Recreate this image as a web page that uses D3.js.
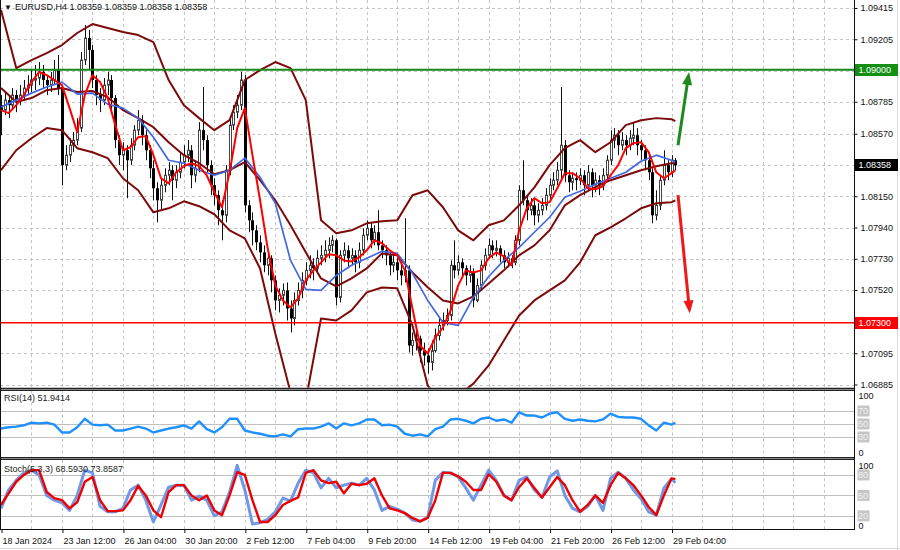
<!DOCTYPE html>
<html><head><meta charset="utf-8">
<script src="https://cdn.jsdelivr.net/npm/d3@7"></script>
<style>
html,body{margin:0;padding:0;background:#fff;}
svg{display:block;font-family:"Liberation Sans",Arial,sans-serif;}
</style></head><body>
<svg id="c" width="900" height="550"></svg>
<script>
// ---------------- DATA ----------------
const symbolTitle = "EURUSD,H4";
const headerValues = ["1.08359","1.08359","1.08358","1.08358"];
const firstOpen = 1.08762;
const closes = [
1.08729,1.08796,1.08762,1.08830,1.08796,1.08830,1.08877,1.08897,1.08931,1.08944,
1.08985,1.08931,1.08897,1.08931,1.08998,1.08877,1.08359,1.08426,1.08493,1.08527,
1.08608,1.09065,1.09213,1.09133,1.08931,1.08830,1.08796,1.08897,1.08931,1.08810,
1.08527,1.08426,1.08459,1.08392,1.08493,1.08594,1.08661,1.08560,1.08459,1.08338,
1.08204,1.08123,1.08224,1.08291,1.08325,1.08258,1.08311,1.08379,1.08426,1.08459,
1.08291,1.08338,1.08594,1.08527,1.08359,1.08224,1.08157,1.08056,1.08022,1.08325,
1.08628,1.08715,1.08762,1.08931,1.08089,1.07988,1.07921,1.07840,1.07773,1.07686,
1.07733,1.07585,1.07450,1.07484,1.07517,1.07396,1.07329,1.07450,1.07517,1.07585,
1.07652,1.07686,1.07666,1.07733,1.07753,1.07787,1.07820,1.07854,1.07470,1.07753,
1.07787,1.07733,1.07753,1.07706,1.07787,1.07888,1.07935,1.07854,1.07908,1.07820,
1.07787,1.07753,1.07686,1.07706,1.07652,1.07618,1.07652,1.07147,1.07181,1.07194,
1.07113,1.07080,1.07033,1.07113,1.07214,1.07282,1.07315,1.07349,1.07686,1.07652,
1.07706,1.07666,1.07618,1.07639,1.07450,1.07551,1.07686,1.07753,1.07820,1.07787,
1.07800,1.07753,1.07706,1.07733,1.07706,1.07854,1.08190,1.08123,1.08056,1.08089,
1.08022,1.08056,1.08089,1.08157,1.08224,1.08258,1.08325,1.08493,1.08291,1.08244,
1.08271,1.08258,1.08291,1.08224,1.08311,1.08224,1.08258,1.08224,1.08291,1.08392,
1.08527,1.08560,1.08493,1.08527,1.08493,1.08540,1.08560,1.08493,1.08459,1.08392,
1.08311,1.08022,1.08089,1.08258,1.08359,1.08311,1.08392,1.08358];
const highs = [
1.08830,1.08850,1.08830,1.08877,1.08863,1.08897,1.08931,1.08964,1.08998,1.09032,
1.09052,1.09032,1.08964,1.08985,1.09065,1.09099,1.08897,1.08493,1.08540,1.08581,
1.08675,1.09119,1.09301,1.09267,1.09166,1.08964,1.08877,1.08944,1.08985,1.08964,
1.08830,1.08560,1.08513,1.08493,1.08540,1.08628,1.08729,1.08695,1.08594,1.08493,
1.08392,1.08244,1.08271,1.08338,1.08379,1.08359,1.08359,1.08446,1.08493,1.08527,
1.08493,1.08392,1.08648,1.08884,1.08560,1.08392,1.08271,1.08190,1.08123,1.08359,
1.08675,1.08762,1.08830,1.08985,1.08964,1.08123,1.08042,1.07955,1.07888,1.07820,
1.07787,1.07753,1.07618,1.07531,1.07564,1.07571,1.07450,1.07504,1.07571,1.07639,
1.07706,1.07753,1.07733,1.07787,1.07820,1.07854,1.07874,1.07888,1.07867,1.07787,
1.07840,1.07820,1.07800,1.07787,1.07840,1.07935,1.07988,1.07975,1.07955,1.08056,
1.07854,1.07820,1.07787,1.07753,1.07733,1.07706,1.08002,1.07686,1.07235,1.07248,
1.07214,1.07167,1.07127,1.07181,1.07261,1.07329,1.07369,1.07396,1.07719,1.07854,
1.07753,1.07733,1.07686,1.07686,1.07666,1.07598,1.07719,1.07800,1.07867,1.07854,
1.07854,1.07820,1.07787,1.07773,1.07753,1.07888,1.08224,1.08392,1.08157,1.08137,
1.08123,1.08103,1.08137,1.08204,1.08271,1.08311,1.08379,1.08884,1.08527,1.08325,
1.08311,1.08311,1.08338,1.08325,1.08359,1.08338,1.08311,1.08291,1.08338,1.08426,
1.08594,1.08608,1.08594,1.08581,1.08560,1.08594,1.08641,1.08608,1.08527,1.08493,
1.08426,1.08338,1.08190,1.08291,1.08459,1.08392,1.08426,1.08406];
const lows = [
1.08560,1.08695,1.08675,1.08729,1.08715,1.08762,1.08796,1.08830,1.08850,1.08863,
1.08897,1.08877,1.08830,1.08850,1.08897,1.08830,1.08224,1.08325,1.08379,1.08446,
1.08493,1.08581,1.09032,1.08998,1.08877,1.08762,1.08715,1.08762,1.08830,1.08729,
1.08473,1.08359,1.08325,1.08137,1.08359,1.08459,1.08560,1.08493,1.08392,1.08271,
1.08123,1.07975,1.08056,1.08177,1.08224,1.08123,1.08204,1.08271,1.08338,1.08379,
1.08204,1.08244,1.08311,1.08459,1.08311,1.08157,1.08089,1.07955,1.07854,1.07975,
1.08291,1.08594,1.08675,1.08729,1.08042,1.07908,1.07820,1.07787,1.07706,1.07639,
1.07618,1.07504,1.07383,1.07369,1.07416,1.07315,1.07235,1.07282,1.07416,1.07464,
1.07551,1.07598,1.07585,1.07639,1.07686,1.07706,1.07733,1.07773,1.07416,1.07437,
1.07706,1.07666,1.07686,1.07639,1.07666,1.07753,1.07854,1.07800,1.07820,1.07787,
1.07733,1.07686,1.07618,1.07639,1.07585,1.07551,1.07571,1.07100,1.07080,1.07113,
1.07033,1.07012,1.06959,1.06979,1.07100,1.07181,1.07248,1.07282,1.07315,1.07598,
1.07618,1.07598,1.07551,1.07571,1.07403,1.07437,1.07517,1.07652,1.07733,1.07733,
1.07746,1.07706,1.07666,1.07672,1.07666,1.07686,1.07820,1.08089,1.07988,1.08022,
1.07955,1.07975,1.08022,1.08056,1.08123,1.08190,1.08224,1.08271,1.08244,1.08177,
1.08190,1.08190,1.08224,1.08157,1.08190,1.08143,1.08177,1.08157,1.08190,1.08258,
1.08359,1.08473,1.08426,1.08459,1.08426,1.08459,1.08493,1.08426,1.08392,1.08325,
1.08258,1.07968,1.07988,1.08056,1.08224,1.08258,1.08278,1.08325];

// indicator lines (bollinger bands + blue MA sampled every 4 bars, the rest every 2 bars)
const bbUpper = [1.09402,1.09011,1.09065,1.09112,1.09166,1.09247,1.09307,1.09281,1.09254,1.09233,
1.09186,1.08931,1.08762,1.08675,1.08594,1.08661,1.08931,1.08998,1.09052,1.09011,
1.08796,1.07988,1.07901,1.07921,1.07968,1.07982,1.07988,1.08157,1.08190,1.08076,
1.07921,1.07854,1.07955,1.07988,1.08089,1.08210,1.08359,1.08473,1.08527,1.08446,
1.08513,1.08628,1.08661,1.08675,1.08668,1.08655];
const bbMiddle = [1.08877,1.08783,1.08810,1.08863,1.08877,1.08850,1.08857,1.08816,1.08729,1.08675,
1.08614,1.08513,1.08426,1.08372,1.08298,1.08325,1.08379,1.08258,1.08123,1.07955,
1.07773,1.07598,1.07544,1.07598,1.07665,1.07766,1.07753,1.07638,1.07538,1.07450,
1.07430,1.07477,1.07564,1.07652,1.07753,1.07820,1.07921,1.08089,1.08157,1.08211,
1.08258,1.08291,1.08325,1.08352,1.08372,1.08372];
const bbLower = [1.08325,1.08459,1.08540,1.08608,1.08594,1.08473,1.08446,1.08406,1.08271,1.08190,
1.08042,1.08069,1.08116,1.08083,1.08029,1.07921,1.07867,1.07665,1.07228,1.06831,
1.06777,1.07329,1.07315,1.07383,1.07504,1.07537,1.07531,1.07282,1.06878,1.06763,
1.06811,1.06891,1.07013,1.07181,1.07349,1.07450,1.07517,1.07585,1.07706,1.07888,
1.07941,1.08002,1.08069,1.08103,1.08110,1.08123];
const maBlue = [1.08749,1.08796,1.08843,1.08884,1.08917,1.08836,1.08843,1.08769,1.08742,1.08675,
1.08547,1.08392,1.08372,1.08325,1.08291,1.08325,1.08406,1.08278,1.08103,1.07719,
1.07524,1.07517,1.07618,1.07686,1.07733,1.07780,1.07766,1.07632,1.07450,1.07302,
1.07282,1.07470,1.07611,1.07719,1.07807,1.07908,1.08009,1.08143,1.08184,1.08231,
1.08271,1.08311,1.08385,1.08426,1.08392,1.08379];
const maRed = [1.08729,1.08709,1.08762,1.08830,1.08917,1.08985,1.08964,1.08931,1.08897,
1.08742,1.08581,1.08830,1.08964,1.08917,1.08810,1.08628,1.08459,1.08480,
1.08547,1.08554,1.08426,1.08271,1.08237,1.08311,1.08352,1.08372,1.08352,
1.08291,1.08177,1.08076,1.08311,1.08608,1.08742,1.08426,1.08123,1.07800,
1.07551,1.07450,1.07403,1.07464,1.07585,1.07652,1.07706,1.07760,1.07753,
1.07719,1.07712,1.07739,1.07787,1.07854,1.07834,1.07787,1.07753,1.07652,
1.07396,1.07147,1.07093,1.07201,1.07268,1.07383,1.07551,1.07652,1.07638,
1.07652,1.07733,1.07773,1.07746,1.07686,1.07921,1.08069,1.08137,1.08103,
1.08110,1.08204,1.08305,1.08305,1.08271,1.08204,1.08197,1.08217,1.08291,
1.08359,1.08473,1.08507,1.08513,1.08446,1.08311,1.08271,1.08305,1.08325];
const rsi = [43,45,46,48,52,51,52,49,37, 37,45,58,49,48,49,40,40,43,
46,43,37,40,43,45,48,43,54, 42,37,45,58,58,40,37,35,32,
31,34,31,42,43,43,46,51,43, 51,48,51,57,57,48,49,46,35,
32,34,31,42,46,57,58,55,51, 58,60,55,57,52,68,63,63,60,
66,68,58,55,57,55,54,57,66, 61,60,60,58,48,40,52,49,51.9414];
const stochMain = [31,58,72,83,87,80,50,43,39, 28,50,87,83,34,26,26,31,58,
65,43,11,36,62,65,65,43,49, 43,20,26,55,94,58,8,10,15,
26,46,42,68,87,83,61,75,61, 65,68,65,75,58,28,34,30,24,
14,12,18,72,84,83,77,61,43, 65,87,72,50,43,72,77,58,47,
77,86,50,31,26,34,50,28,75, 84,75,58,45,26,21,61,74,68.5930];
const stochSignal = [36,53,70,80,87,87,55,46,43, 31,40,70,77,43,27,27,28,43,
64,50,28,18,55,65,65,50,43, 50,28,21,50,84,80,43,11,11,
21,36,42,47,83,87,72,68,70, 53,67,65,67,75,50,31,28,24,
17,12,17,43,83,83,78,70,58, 58,81,70,50,43,62,75,61,47,
62,77,65,43,26,36,50,39,65, 83,75,65,50,33,21,50,75,73.8587];

const timeTickBars = [0,16,32,48,64,80,96,112,128,144,160,176];
const timeTickLabels = ["18 Jan 2024","23 Jan 12:00","26 Jan 04:00","30 Jan 20:00","2 Feb 12:00","7 Feb 04:00",
  "9 Feb 20:00","14 Feb 12:00","19 Feb 04:00","21 Feb 20:00","26 Feb 12:00","29 Feb 04:00"];
const priceGrid = [1.09415,1.09205,1.08995,1.08785,1.08570,1.08360,1.08150,1.07940,1.07730,1.07520,1.07305,1.07095,1.06885];
const priceLabels = [1.09415,1.09205,1.08785,1.08570,1.08150,1.07940,1.07730,1.07520,1.07095,1.06885];
const resistanceLevel = 1.09000;
const supportLevel = 1.07300;
const lastPrice = 1.08358;
const rsiLevels = [70,50,30];
const stochLevels = [80,50,20];
const upArrowBars = [177.7,180.6], upArrowPrices = [1.08493,1.08985];
const downArrowBars = [177.7,180.8], downArrowPrices = [1.08157,1.07362];

// ---------------- LAYOUT ----------------
const svg = d3.select("#c");
const plotRight = 854.5;
const x = d3.scaleLinear().domain([0,224]).range([1,854.4]);
const y = d3.scaleLinear().domain([1.06885,1.09415]).range([384.5,8]);
const rsiY = d3.scaleLinear().domain([0,100]).range([456.5,391.5]);
const stY = d3.scaleLinear().domain([0,100]).range([529.5,461.3]);
const mainBottom = 388, rsiTop = 390.5, rsiBottom = 457, stTop = 460, stBottom = 529;
const crisp = v => Math.round(v) + 0.5;

svg.append("rect").attr("width",900).attr("height",550).attr("fill","#fff");
const defs = svg.append("defs");
defs.append("clipPath").attr("id","cm").append("rect").attr("x",0).attr("y",0).attr("width",854).attr("height",mainBottom);
defs.append("clipPath").attr("id","cr").append("rect").attr("x",0).attr("y",rsiTop).attr("width",854).attr("height",rsiBottom-rsiTop);
defs.append("clipPath").attr("id","cs").append("rect").attr("x",0).attr("y",stTop).attr("width",854).attr("height",stBottom-stTop);

const gridColor = "#c4c4c4";
const grid = svg.append("g");
// vertical grid in all panels
const vBars = d3.range(8, 224, 8);
[[0,mainBottom],[rsiTop,rsiBottom],[stTop,stBottom]].forEach(([a,b]) => {
  grid.selectAll(null).data(vBars).enter().append("line")
    .attr("x1", d=>crisp(x(d))).attr("x2", d=>crisp(x(d)))
    .attr("y1", a).attr("y2", b)
    .attr("stroke", gridColor).attr("stroke-dasharray","3,3");
});
grid.selectAll(null).data(priceGrid).enter().append("line")
  .attr("x1",0).attr("x2",plotRight).attr("y1",d=>crisp(y(d))).attr("y2",d=>crisp(y(d)))
  .attr("stroke",gridColor).attr("stroke-dasharray","3,3");
// levels
grid.selectAll(null).data(rsiLevels).enter().append("line")
  .attr("x1",0).attr("x2",plotRight).attr("y1",d=>crisp(rsiY(d))).attr("y2",d=>crisp(rsiY(d)))
  .attr("stroke","#c0c0c0");
grid.selectAll(null).data(stochLevels).enter().append("line")
  .attr("x1",0).attr("x2",plotRight).attr("y1",d=>crisp(stY(d))).attr("y2",d=>crisp(stY(d)))
  .attr("stroke","#c0c0c0");

// ---------------- CANDLES ----------------
const candles = closes.map((c,i) => {
  const o = i === 0 ? firstOpen : closes[i-1];
  return {i, o, c, h: Math.max(highs[i], o, c), l: Math.min(lows[i], o, c)};
});
const gc = svg.append("g").attr("clip-path","url(#cm)");
gc.selectAll(".wick").data(candles).enter().append("line")
  .attr("x1", d=>crisp(x(d.i))).attr("x2", d=>crisp(x(d.i)))
  .attr("y1", d=>y(d.h)).attr("y2", d=>y(d.l))
  .attr("stroke","#111").attr("stroke-width",1);
gc.selectAll(".body").data(candles).enter().append("rect")
  .attr("x", d => d.c >= d.o ? Math.round(x(d.i)) - 0.5 : Math.round(x(d.i)) - 1)
  .attr("y", d => y(Math.max(d.o,d.c)))
  .attr("width", d => d.c >= d.o ? 2 : 3)
  .attr("height", d => Math.max(1, y(Math.min(d.o,d.c)) - y(Math.max(d.o,d.c))))
  .attr("fill", d => d.c >= d.o ? "#fff" : "#000")
  .attr("stroke", d => d.c >= d.o ? "#444" : "none")
  .attr("stroke-width", 1);

// ---------------- INDICATORS ----------------
const bandBars = d3.range(0,177,4).concat([177]);
const fastBars = d3.range(0,177,2).concat([177]);
const gi = svg.append("g").attr("clip-path","url(#cm)");
const priceLine = bars => d3.line().x((d,k)=>x(bars[k])).y(d=>y(d));
[[bbUpper,"#7d0a0a",2],[bbMiddle,"#7d0a0a",2],[bbLower,"#7d0a0a",2]].forEach(([arr,col,w]) => {
  gi.append("path").attr("d", priceLine(bandBars)(arr)).attr("fill","none").attr("stroke",col).attr("stroke-width",w).attr("stroke-linejoin","round");
});
gi.append("path").attr("d", priceLine(bandBars)(maBlue)).attr("fill","none").attr("stroke","#4169e1").attr("stroke-width",1.7).attr("stroke-linejoin","round");
gi.append("path").attr("d", priceLine(fastBars)(maRed)).attr("fill","none").attr("stroke","#ff0000").attr("stroke-width",2).attr("stroke-linejoin","round");

// horizontal levels
svg.append("line").attr("x1",0).attr("x2",plotRight).attr("y1",y(resistanceLevel)).attr("y2",y(resistanceLevel))
  .attr("stroke","#138a13").attr("stroke-width",2);
svg.append("line").attr("x1",0).attr("x2",plotRight).attr("y1",y(supportLevel)).attr("y2",y(supportLevel))
  .attr("stroke","#ff0000").attr("stroke-width",1.6);

// arrows
function arrow(bars, prices, color) {
  const x0 = x(bars[0]), y0 = y(prices[0]), x1 = x(bars[1]), y1 = y(prices[1]);
  const dx = x1-x0, dy = y1-y0, len = Math.hypot(dx,dy), ux = dx/len, uy = dy/len;
  const hl = 13, hw = 5;
  const bx = x1 - ux*hl, by = y1 - uy*hl;
  svg.append("line").attr("x1",x0).attr("y1",y0).attr("x2",bx+ux*2).attr("y2",by+uy*2)
    .attr("stroke",color).attr("stroke-width",3);
  svg.append("path").attr("d", `M${x1},${y1}L${bx - uy*hw},${by + ux*hw}L${bx + uy*hw},${by - ux*hw}Z`).attr("fill",color);
}
arrow(upArrowBars, upArrowPrices, "#1d8c1d");
arrow(downArrowBars, downArrowPrices, "#f01818");

// ---------------- OSCILLATORS ----------------
const gr = svg.append("g").attr("clip-path","url(#cr)");
gr.append("path").attr("d", d3.line().x((d,k)=>x(fastBars[k])).y(d=>rsiY(d))(rsi))
  .attr("fill","none").attr("stroke","#1e90ff").attr("stroke-width",2.4).attr("stroke-linejoin","round");
const gs = svg.append("g").attr("clip-path","url(#cs)");
gs.append("path").attr("d", d3.line().x((d,k)=>x(fastBars[k])).y(d=>stY(d))(stochMain))
  .attr("fill","none").attr("stroke","#6f98e6").attr("stroke-width",3).attr("stroke-linejoin","round");
gs.append("path").attr("d", d3.line().x((d,k)=>x(fastBars[k])).y(d=>stY(d))(stochSignal))
  .attr("fill","none").attr("stroke","#ee0000").attr("stroke-width",2.4).attr("stroke-linejoin","round");

// ---------------- FRAMES ----------------
const fr = svg.append("g");
fr.append("rect").attr("x",0).attr("y",mainBottom-0.5).attr("width",plotRight).attr("height",2.5).attr("fill","#8a8a8a");
fr.append("line").attr("x1",0).attr("x2",plotRight).attr("y1",mainBottom+0.5).attr("y2",mainBottom+0.5).attr("stroke","#222");
fr.append("line").attr("x1",0).attr("x2",plotRight).attr("y1",rsiTop).attr("y2",rsiTop).attr("stroke","#222");
fr.append("rect").attr("x",0).attr("y",rsiBottom).attr("width",plotRight).attr("height",stTop-rsiBottom).attr("fill","#8a8a8a");
fr.append("line").attr("x1",0).attr("x2",plotRight).attr("y1",rsiBottom+0.5).attr("y2",rsiBottom+0.5).attr("stroke","#222");
fr.append("line").attr("x1",0).attr("x2",plotRight).attr("y1",stTop-0.5).attr("y2",stTop-0.5).attr("stroke","#222");
fr.append("line").attr("x1",0).attr("x2",plotRight).attr("y1",stBottom+0.5).attr("y2",stBottom+0.5).attr("stroke","#111");
fr.append("line").attr("x1",0.5).attr("x2",0.5).attr("y1",0).attr("y2",stBottom+1).attr("stroke","#111");
fr.append("line").attr("x1",plotRight).attr("x2",plotRight).attr("y1",0).attr("y2",stBottom+1).attr("stroke","#111");
fr.append("line").attr("x1",897.5).attr("x2",897.5).attr("y1",0).attr("y2",550).attr("stroke","#d8d8d8");
fr.append("line").attr("x1",0).attr("x2",900).attr("y1",548.5).attr("y2",548.5).attr("stroke","#d8d8d8");

// ---------------- AXES ----------------
const fontSize = "9px";
const pa = svg.append("g").attr("transform",`translate(${plotRight},0)`)
  .call(d3.axisRight(y).tickValues(priceLabels).tickFormat(d3.format(".5f")).tickSize(3).tickPadding(3));
pa.select(".domain").remove();
pa.selectAll("line").attr("stroke","#111");
pa.selectAll("text").attr("font-size",fontSize).attr("fill","#111").attr("font-family","Liberation Sans, Arial, sans-serif");

function priceBox(val, bg, fg) {
  const yy = y(val);
  svg.append("rect").attr("x",plotRight+0.5).attr("y",Math.round(yy)-6).attr("width",43).attr("height",12).attr("fill",bg);
  svg.append("text").attr("x",plotRight+4).attr("y",yy).attr("dy","0.35em").attr("font-size",fontSize)
    .attr("fill",fg).text(d3.format(".5f")(val));
}
priceBox(resistanceLevel, "#139013", "#fff");
priceBox(lastPrice, "#000", "#fff");
priceBox(supportLevel, "#ff0000", "#fff");

const ta = svg.append("g").attr("transform",`translate(0,${stBottom})`)
  .call(d3.axisBottom(x).tickValues(timeTickBars).tickFormat((d,k)=>timeTickLabels[k]).tickSize(4).tickPadding(3));
ta.select(".domain").remove();
ta.selectAll("line").attr("stroke","#111").attr("transform","translate(0.5,0)");
ta.selectAll("text").attr("font-size",fontSize).attr("fill","#111").attr("text-anchor","start").attr("x",1).attr("dy","0.9em");

function oscAxis(scale, levels) {
  const g = svg.append("g");
  g.append("text").attr("x",plotRight+4).attr("y",scale(100)).attr("dy","0.85em").attr("font-size",fontSize).attr("fill","#111").text("100");
  g.append("text").attr("x",plotRight+4).attr("y",scale(0)).attr("dy","-0.1em").attr("font-size",fontSize).attr("fill","#111").text("0");
  levels.forEach(l => {
    g.append("rect").attr("x",plotRight+3).attr("y",scale(l)-5.5).attr("width",12).attr("height",11).attr("fill","#c6c6c6");
    g.append("text").attr("x",plotRight+3.5).attr("y",scale(l)).attr("dy","0.35em").attr("font-size",fontSize).attr("fill","#f2f2f2").text(l);
  });
}
oscAxis(rsiY, rsiLevels);
oscAxis(stY, stochLevels);

// ---------------- LABELS ----------------
svg.append("text").attr("x",4).attr("y",10).attr("font-size","8px").attr("fill","#111").text("\u25BC");
svg.append("text").attr("x",15).attr("y",10).attr("font-size",fontSize).attr("fill","#111")
  .text(symbolTitle + "  " + headerValues.join(" "));
svg.append("text").attr("x",4).attr("y",rsiTop+10).attr("font-size",fontSize).attr("fill","#222")
  .text("RSI(14) " + d3.format(".4f")(rsi[rsi.length-1]));
svg.append("text").attr("x",4).attr("y",stTop+12).attr("font-size",fontSize).attr("fill","#222")
  .text("Stoch(5,3,3) " + d3.format(".4f")(stochMain[stochMain.length-1]) + " " + d3.format(".4f")(stochSignal[stochSignal.length-1]));
</script>
</body></html>
